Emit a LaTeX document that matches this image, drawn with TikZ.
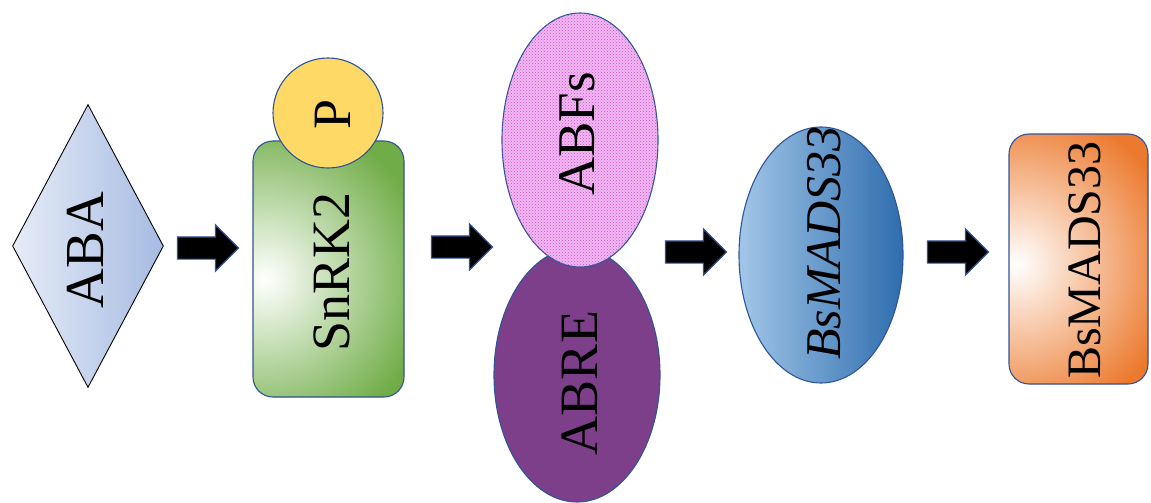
\documentclass[tikz,border=0pt]{standalone}
\usepackage{fontspec}
\setmainfont{Liberation Serif}
\usetikzlibrary{shapes.geometric,shapes.arrows,patterns}
\definecolor{edgeblue}{HTML}{2F5597}
\definecolor{diaL}{HTML}{E6ECF7}
\definecolor{diaR}{HTML}{A6BBE2}
\definecolor{greenO}{HTML}{70AD47}
\definecolor{pyellow}{HTML}{FFD966}
\definecolor{pinkbase}{HTML}{F2B8F2}
\definecolor{pinkpat}{HTML}{CC55D0}
\definecolor{purple}{HTML}{7E3F8A}
\definecolor{blueL}{HTML}{A2C6E8}
\definecolor{blueR}{HTML}{2E6DAE}
\definecolor{orangeO}{HTML}{EC7A2E}
\begin{document}
\begin{tikzpicture}[x=1pt,y=-1pt,
  shapeline/.style={draw=edgeblue,line width=1.1pt},
  lbl/.style={inner sep=0pt,rotate=90,text=black},
  blockarrow/.style={single arrow,draw=edgeblue,fill=black,line width=1.2pt,
    minimum width=0pt,minimum height=61pt,inner xsep=0pt,inner ysep=10.5pt,
    single arrow head extend=12pt,single arrow head indent=0pt}]
\useasboundingbox (0,0) rectangle (1151,503);
% ABA diamond
\node[diamond,draw=black,line width=0.9pt,inner sep=0pt,minimum width=151pt,minimum height=283pt,
  left color=diaL,right color=diaR] (aba) at (88,246) {};
\node[lbl,font=\fontsize{55}{55}\selectfont] (abat) at (85,250) {ABA};
% SnRK2
\node[rectangle,rounded corners=20pt,shapeline,inner sep=0pt,minimum width=151pt,minimum height=256pt,
  fill=greenO,
  path picture={\shade[inner color=white,outer color=greenO] ([xshift=12pt,yshift=-10pt]path picture bounding box.west) circle (165pt);}] (snrk) at (328.5,269) {};
\node[circle,shapeline,fill=pyellow,minimum size=110pt,inner sep=0pt] (p) at (328,113) {};
\node[lbl,font=\fontsize{54}{54}\selectfont] (pt) at (333,114) {P};
\node[lbl,font=\fontsize{54}{54}\selectfont] (snrkt) at (332,272) {SnRK2};
% ABRE and ABFs
\node[ellipse,shapeline,fill=purple,inner sep=0pt,minimum width=166pt,minimum height=254pt] (abre) at (577,375) {};
\node[lbl,font=\fontsize{54}{54}\selectfont] (abret) at (580,383) {ABRE};
\node[ellipse,shapeline,fill=pinkbase,inner sep=0pt,minimum width=156pt,minimum height=254pt,
  postaction={pattern=crosshatch dots,pattern color=pinkpat}] (abfs) at (580,140) {};
\node[lbl,font=\fontsize{53}{53}\selectfont] (abfst) at (577,134) {ABFs};
% BsMADS33 ellipse
\node[ellipse,shapeline,inner sep=0pt,minimum width=164pt,minimum height=256pt,
  left color=blueL,right color=blueR] (mads) at (821,255) {};
\node[lbl,font=\fontsize{50}{50}\selectfont\itshape] (madst) at (824,243) {BsMADS33};
% BsMADS33 rounded rectangle
\node[rectangle,rounded corners=20pt,shapeline,inner sep=0pt,minimum width=139pt,minimum height=250pt,
  fill=orangeO,
  path picture={\shade[inner color=white,outer color=orangeO] ([xshift=8pt,yshift=-5pt]path picture bounding box.west) circle (160pt);}] (gene) at (1078.5,259) {};
\node[lbl,font=\fontsize{48}{48}\selectfont] (genet) at (1085,260) {BsMADS33};
% block arrows
\node[blockarrow] (a1) at (202.5,248) {};
\node[blockarrow] (a2) at (456.5,247) {};
\node[blockarrow] (a3) at (690.5,252) {};
\node[blockarrow] (a4) at (952.5,252) {};
\end{tikzpicture}
\end{document}
